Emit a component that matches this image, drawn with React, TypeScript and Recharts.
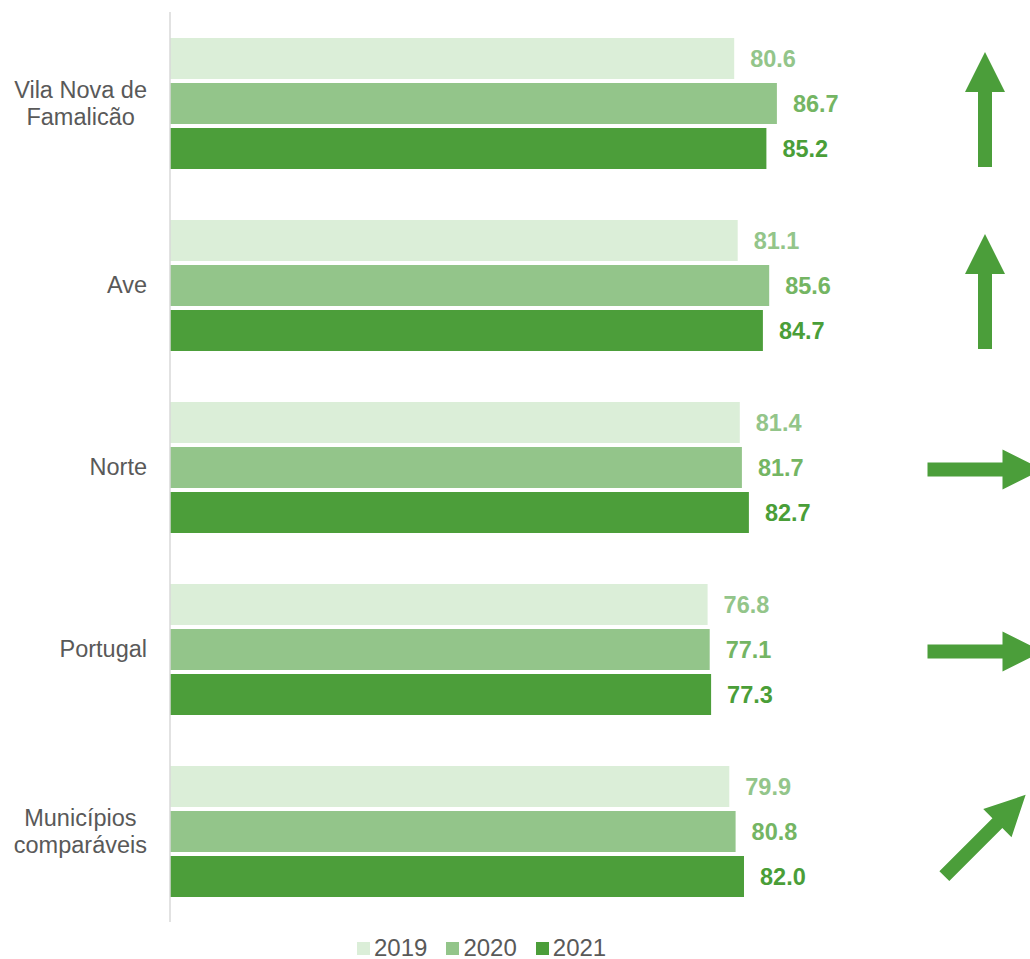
import { BarChart, Bar, XAxis, YAxis, Legend, LabelList } from 'recharts';

// categories and values
const regions = ['Vila Nova de Famalicão', 'Ave', 'Norte', 'Portugal', 'Municípios comparáveis'];
const regionLines = [['Vila Nova de', 'Famalicão'], ['Ave'], ['Norte'], ['Portugal'], ['Municípios', 'comparáveis']];
const values2019 = [80.6, 81.1, 81.4, 76.8, 79.9];
const values2020 = [86.7, 85.6, 81.7, 77.1, 80.8];
const values2021 = [85.2, 84.7, 82.7, 77.3, 82.0];
const trends = ['up', 'up', 'right', 'right', 'diag'];

const data = regions.map((name, i) => ({
  name,
  y2019: values2019[i],
  y2020: values2020[i],
  y2021: values2021[i],
  trend: trends[i],
}));

const FONT = '"Liberation Sans", Arial, sans-serif';
const TICK_SIZE = 23.5;
const ARROW_COLOR = '#4b9e3a';
const ARROW_X = 985;

const arrowStyle: Record<string, { rot: number; dy: number }> = {
  up: { rot: 0, dy: 6 },
  right: { rot: 90, dy: 2 },
  diag: { rot: 45, dy: 4 },
};

// arrow pointing up, centred on 0,0
const arrowPoints = '0,-57.5 20,-17.5 7,-17.5 7,57.5 -7,57.5 -7,-17.5 -20,-17.5';

let measureCtx: CanvasRenderingContext2D | null = null;
function textWidth(s: string) {
  if (!measureCtx) {
    measureCtx = document.createElement('canvas').getContext('2d');
  }
  if (!measureCtx) return s.length * 11.2;
  measureCtx.font = `${TICK_SIZE}px ${FONT}`;
  return measureCtx.measureText(s).width;
}

function renderArrow(props: any) {
  const { y, height, value } = props;
  const s = arrowStyle[value] || arrowStyle.right;
  const cy = y + height / 2 + s.dy;
  return (
    <polygon
      points={arrowPoints}
      fill={ARROW_COLOR}
      transform={`translate(${ARROW_X},${cy}) rotate(${s.rot})`}
    />
  );
}

function RegionTick(props: any) {
  const { x, y, index } = props;
  const lines = regionLines[index] || [props.payload.value];
  if (lines.length === 1) {
    return (
      <text x={x} y={y} dy="0.35em" textAnchor="end" fill="#595959" fontSize={TICK_SIZE} fontFamily={FONT}>
        {lines[0]}
      </text>
    );
  }
  // wrapped label: block right aligned, lines centred within it
  const widest = Math.max(...lines.map(textWidth));
  const cx = x - widest / 2;
  return (
    <text textAnchor="middle" fill="#595959" fontSize={TICK_SIZE} fontFamily={FONT}>
      {lines.map((l, i) => (
        <tspan key={l} x={cx} y={y + (i - (lines.length - 1) / 2) * 27} dy="0.35em">
          {l}
        </tspan>
      ))}
    </text>
  );
}

function renderLegend(props: any) {
  const { payload } = props;
  return (
    <div style={{ display: 'flex', gap: 19, fontFamily: FONT, fontSize: 24, color: '#595959' }}>
      {payload.map((p: any) => (
        <div key={p.value} style={{ display: 'flex', alignItems: 'center', gap: 4 }}>
          <span style={{ width: 13, height: 13, background: p.color, display: 'inline-block' }} />
          <span style={{ lineHeight: '26px' }}>{p.value}</span>
        </div>
      ))}
    </div>
  );
}

export default function App() {
  return (
    <div style={{ position: 'absolute', left: 0, top: 0, width: 1030, height: 959, background: '#fff' }}>
      <BarChart
        width={1030}
        height={959}
        data={data}
        layout="vertical"
        margin={{ top: 12, right: 20, left: 0, bottom: 11 }}
        barSize={41}
        barGap={4}
      >
        <XAxis type="number" domain={[0, 120]} hide />
        <YAxis
          type="category"
          dataKey="name"
          width={170}
          axisLine={{ stroke: '#d9d9d9', strokeWidth: 1.5 }}
          tickLine={false}
          tickMargin={17}
          tick={<RegionTick />}
          interval={0}
        />
        <Legend
          height={26}
          content={renderLegend}
          wrapperStyle={{ top: 935, left: 357, width: 'auto' }}
        />
        <Bar dataKey="y2019" name="2019" fill="#dbeed8" isAnimationActive={false}>
          <LabelList
            dataKey="y2019"
            position="right"
            offset={16}
            fill="#93c58a"
            fontSize={23.5}
            fontWeight="bold"
            fontFamily={FONT}
            formatter={(v: any) => Number(v).toFixed(1)}
          />
        </Bar>
        <Bar dataKey="y2020" name="2020" fill="#93c58a" isAnimationActive={false}>
          <LabelList
            dataKey="y2020"
            position="right"
            offset={16}
            fill="#74b563"
            fontSize={23.5}
            fontWeight="bold"
            fontFamily={FONT}
            formatter={(v: any) => Number(v).toFixed(1)}
          />
          <LabelList dataKey="trend" content={renderArrow} />
        </Bar>
        <Bar dataKey="y2021" name="2021" fill="#4c9e3a" isAnimationActive={false}>
          <LabelList
            dataKey="y2021"
            position="right"
            offset={16}
            fill="#4a9e38"
            fontSize={23.5}
            fontWeight="bold"
            fontFamily={FONT}
            formatter={(v: any) => Number(v).toFixed(1)}
          />
        </Bar>
      </BarChart>
    </div>
  );
}
